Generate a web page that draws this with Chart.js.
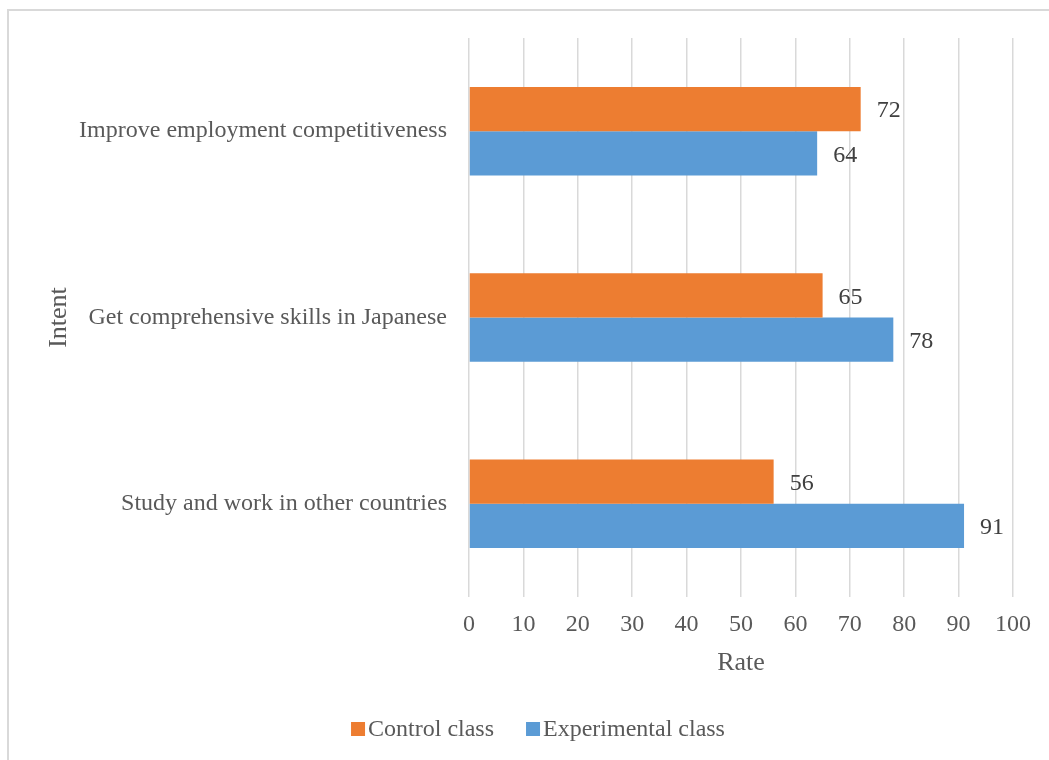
<!DOCTYPE html>
<html>
<head>
<meta charset="utf-8">
<script src="https://cdn.jsdelivr.net/npm/chart.js@4"></script>
<style>
  html, body { margin: 0; padding: 0; background: #fff; overflow: hidden; }
  #frame { position: absolute; left: 7px; top: 9px; width: 1080px; height: 800px; border: 2px solid #d9d9d9; box-sizing: border-box; }
  #myChart { position: absolute; left: 0; top: 0; }
</style>
</head>
<body>
<div id="frame"></div>
<canvas id="myChart" width="1049" height="760"></canvas>
<script>
const categories = ['Improve employment competitiveness', 'Get comprehensive skills in Japanese', 'Study and work in other countries'];
const controlValues = [72, 65, 56];
const experimentalValues = [64, 78, 91];
const seriesNames = ['Control class', 'Experimental class'];

const textColor = '#595959';
const serif = "'Liberation Serif', 'Times New Roman', serif";

// draw the value at the end of each bar
const valueLabels = {
  id: 'valueLabels',
  afterDatasetsDraw(chart) {
    const ctx = chart.ctx;
    ctx.save();
    ctx.font = '24px ' + serif;
    ctx.fillStyle = '#404040';
    ctx.textAlign = 'left';
    ctx.textBaseline = 'middle';
    chart.data.datasets.forEach((ds, i) => {
      chart.getDatasetMeta(i).data.forEach((bar, j) => {
        ctx.fillText(ds.data[j], bar.x + 16, bar.y + 2);
      });
    });
    ctx.restore();
  }
};

// Excel style legend: small square right next to the text
const tightLegend = {
  id: 'tightLegend',
  afterDraw(chart) {
    const ctx = chart.ctx;
    const box = 14, gap = 3, spacing = 32, y = 730, center = 538;
    ctx.save();
    ctx.font = '24px ' + serif;
    ctx.textBaseline = 'middle';
    ctx.textAlign = 'left';
    const widths = chart.data.datasets.map(ds => ctx.measureText(ds.label).width);
    let total = widths.reduce((a, w) => a + box + gap + w, 0) + spacing * (widths.length - 1);
    let x = center - total / 2;
    chart.data.datasets.forEach((ds, i) => {
      ctx.fillStyle = ds.backgroundColor;
      ctx.fillRect(x, y - box / 2 - 1, box, box);
      ctx.fillStyle = textColor;
      ctx.fillText(ds.label, x + box + gap, y);
      x += box + gap + widths[i] + spacing;
    });
    ctx.restore();
  }
};

new Chart('myChart', {
  type: 'bar',
  data: {
    labels: categories,
    datasets: [{
      label: seriesNames[0],
      backgroundColor: '#ED7D31',
      data: controlValues
    }, {
      label: seriesNames[1],
      backgroundColor: '#5B9BD5',
      data: experimentalValues
    }]
  },
  options: {
    indexAxis: 'y',
    responsive: false,
    animation: false,
    layout: { padding: { left: 44, right: 36, top: 38, bottom: 53 } },
    datasets: { bar: { barPercentage: 1, categoryPercentage: 0.475 } },
    scales: {
      x: {
        min: 0, max: 100,
        ticks: { stepSize: 10, color: textColor, font: { family: serif, size: 24 }, padding: 13 },
        grid: { color: '#d9d9d9', lineWidth: 1.5, drawTicks: false },
        border: { display: false },
        title: { display: true, text: 'Rate', color: textColor, font: { family: serif, size: 26 }, padding: { top: 4, bottom: 28 } },
        afterFit(scale) { scale.height = 110; }
      },
      y: {
        ticks: { color: textColor, font: { family: serif, size: 24 }, padding: 14 },
        grid: { display: false },
        border: { display: false },
        title: { display: true, text: 'Intent', color: textColor, font: { family: serif, size: 26 }, padding: 0 },
        afterFit(scale) { scale.width = 425; }
      }
    },
    plugins: {
      legend: { display: false },
      tooltip: { enabled: false }
    }
  },
  plugins: [valueLabels, tightLegend]
});
</script>
</body>
</html>
